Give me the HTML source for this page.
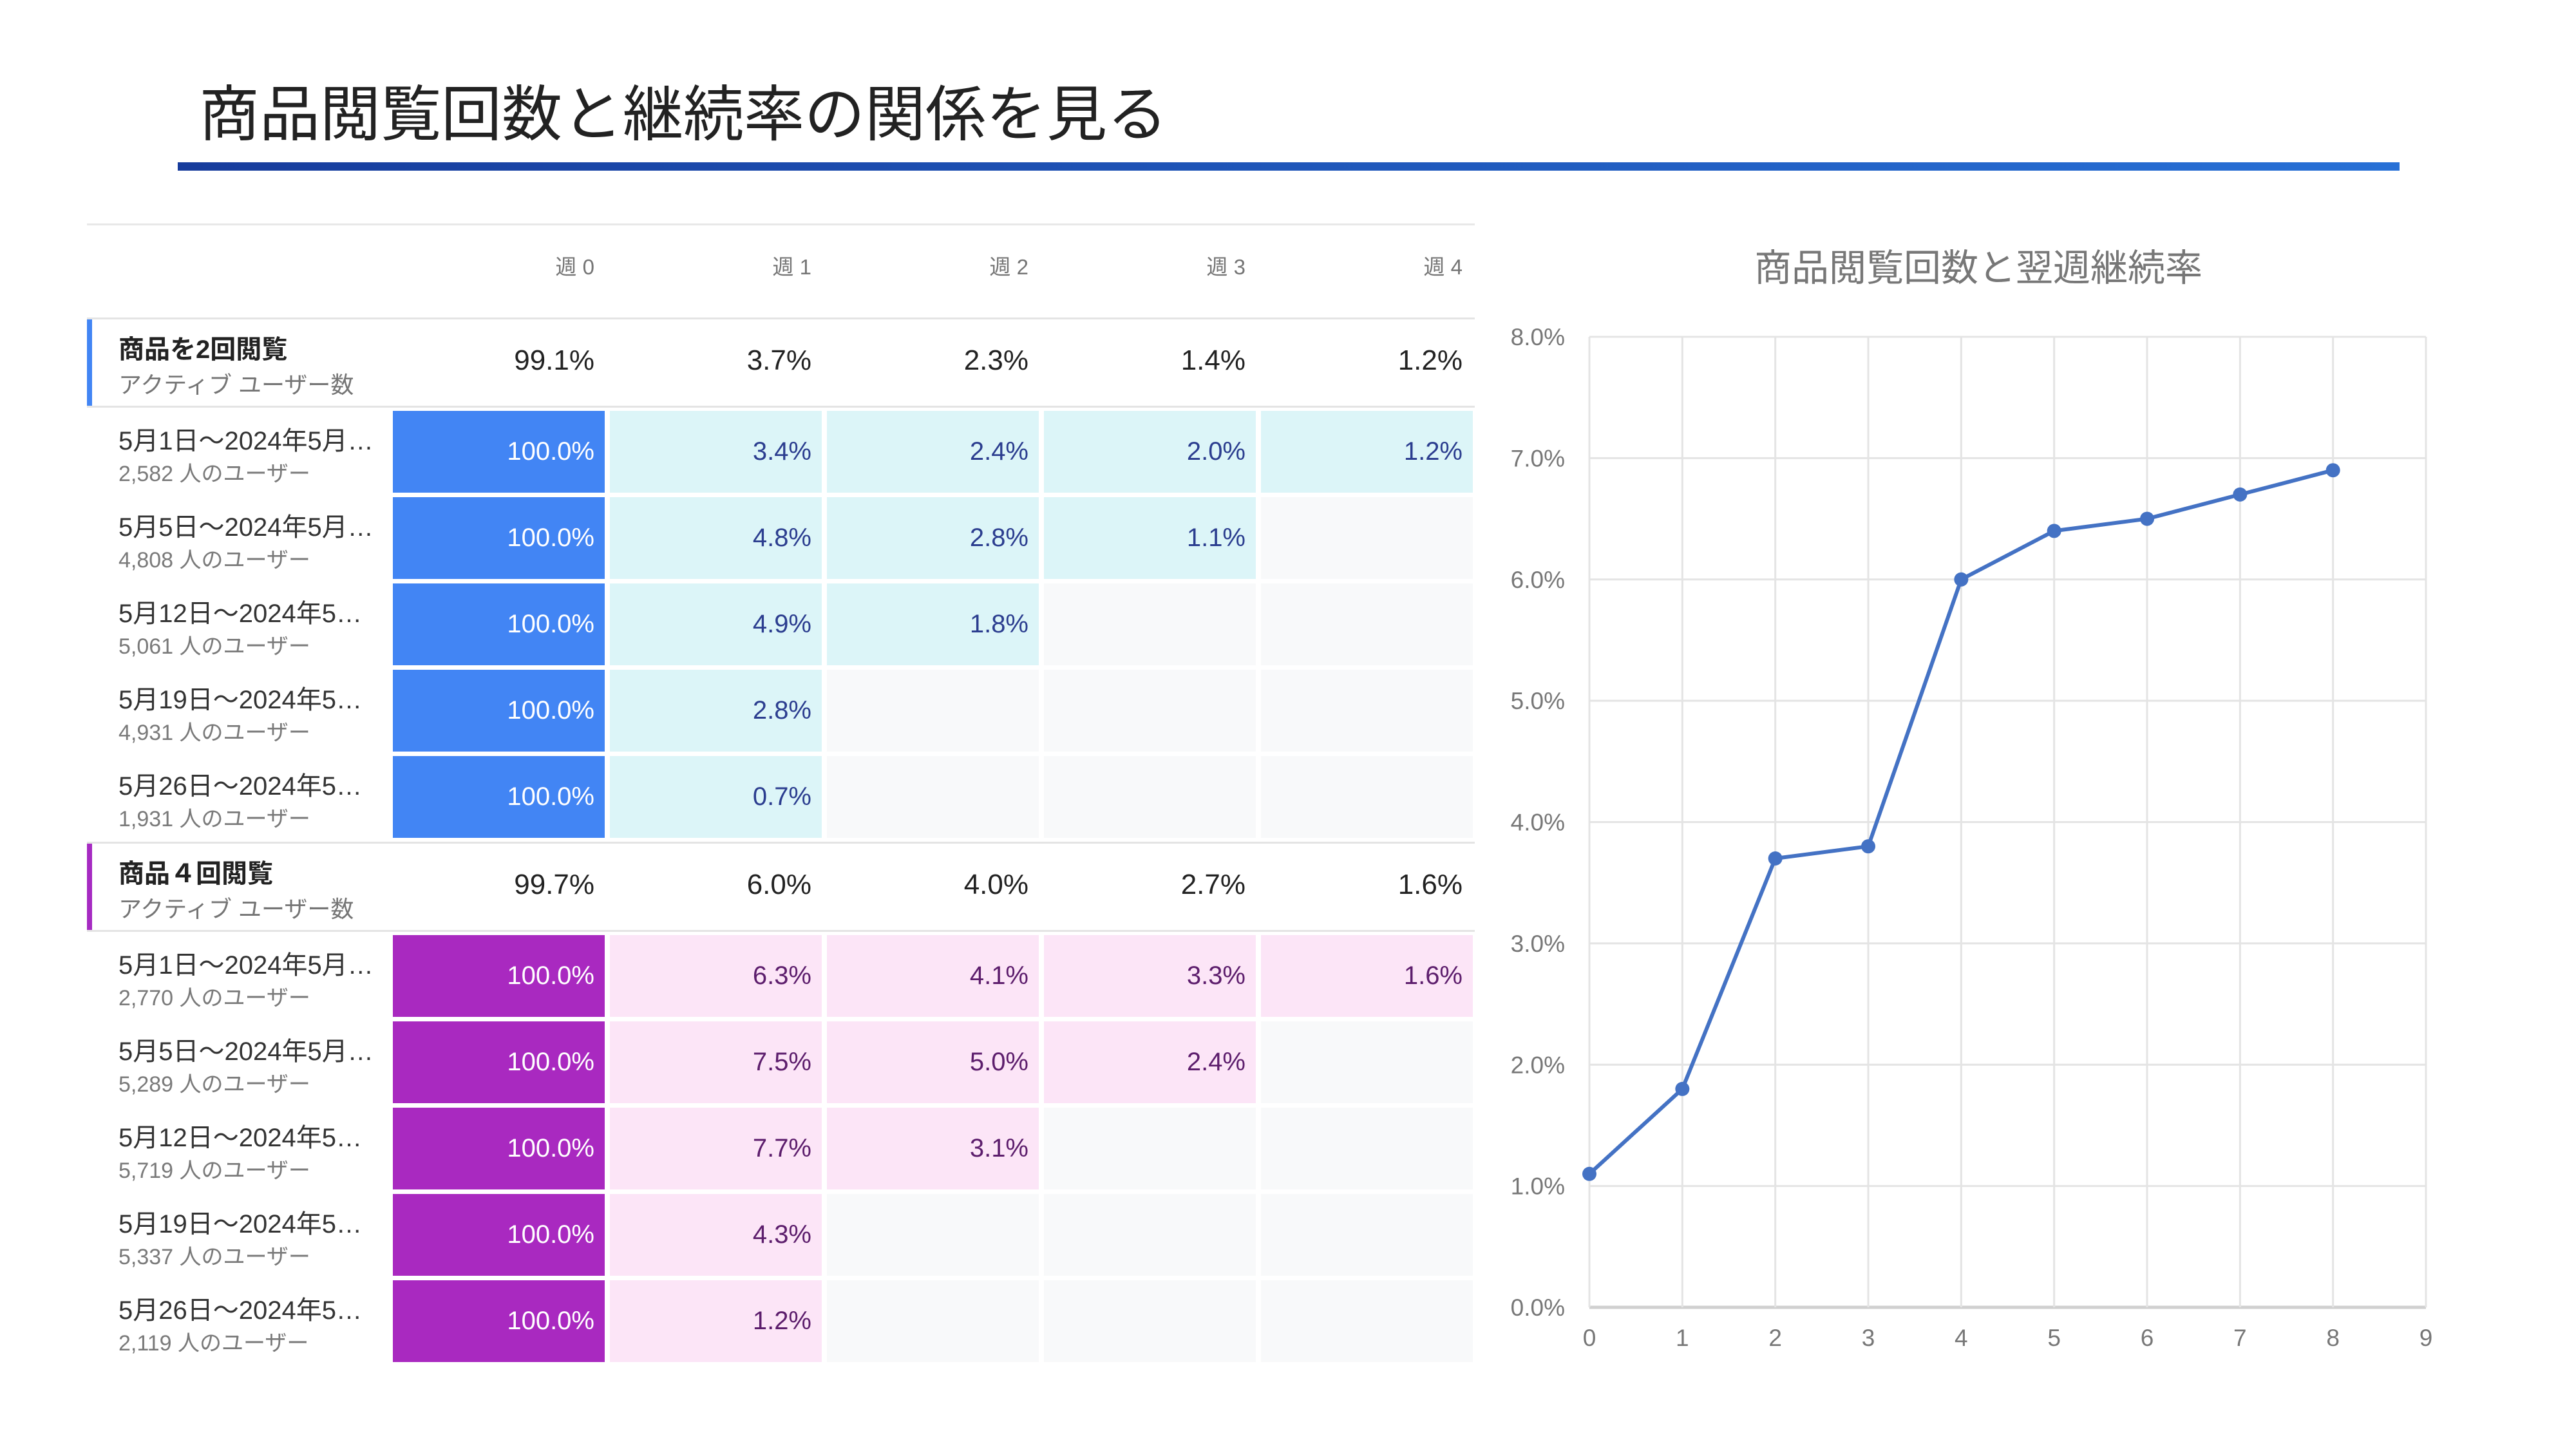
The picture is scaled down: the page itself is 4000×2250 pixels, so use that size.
<!DOCTYPE html>
<html><head><meta charset="utf-8">
<style>
body{margin:0;width:4000px;height:2250px;background:#fff;position:relative;overflow:hidden;font-family:"Liberation Sans","Noto Sans CJK JP",sans-serif;}
.a{position:absolute;white-space:nowrap;}
.cell{position:absolute;box-sizing:border-box;text-align:right;padding-right:16px;font-size:40px;}
.hd{position:absolute;text-align:right;font-size:33px;color:#757575;width:329px;}
.gv{position:absolute;text-align:right;font-size:44px;color:#222;width:313px;}
</style></head><body>
<div class="a" style="left:309px;top:118px;font-size:94px;color:#222;line-height:120px;">商品閲覧回数と継続率の関係を見る</div>
<div class="a" style="left:276px;top:252px;width:3450px;height:13px;background:linear-gradient(90deg,#173c9c,#2770d6);"></div>
<div id="table"></div>
<svg id="chart" width="4000" height="2250" style="position:absolute;left:0;top:0;"></svg>
<script>
const weeks=["週 0","週 1","週 2","週 3","週 4"];
const groupNames=["商品を2回閲覧","商品４回閲覧"];
const groupTotals=[["99.1%","3.7%","2.3%","1.4%","1.2%"],["99.7%","6.0%","4.0%","2.7%","1.6%"]];
const rowLabels=[["5月1日～2024年5月…","5月5日～2024年5月…","5月12日～2024年5…","5月19日～2024年5…","5月26日～2024年5…"],["5月1日～2024年5月…","5月5日～2024年5月…","5月12日～2024年5…","5月19日～2024年5…","5月26日～2024年5…"]];
const rowUsers=[["2,582","4,808","5,061","4,931","1,931"],["2,770","5,289","5,719","5,337","2,119"]];
const cellVals=[[[100,3.4,2.4,2.0,1.2],[100,4.8,2.8,1.1],[100,4.9,1.8],[100,2.8],[100,0.7]],[[100,6.3,4.1,3.3,1.6],[100,7.5,5.0,2.4],[100,7.7,3.1],[100,4.3],[100,1.2]]];
const T=document.getElementById('table');
const CP=337,CW=329,RP=134,RH=127;
function mk(cls,style,txt){const d=document.createElement('div');d.className=cls;d.style.cssText=style;if(txt!==undefined)d.textContent=txt;T.appendChild(d);return d;}
let e=mk('a','left:135px;top:347px;width:2155px;height:3px;background:#e8e8e8;');


weeks.forEach((w,i)=>{const h=mk('hd',`left:${610+i*CP-16}px;top:388px;`,w);

});
const gTops=[493,1307];
const colors=[{bar:'#4285f4',full:'#4285f4',light:'#dcf5f8',txt:'#2b3d8f'},{bar:'#a62bc2',full:'#a929c0',light:'#fce5f7',txt:'#5c1d6c'}];
gTops.forEach((gt,g)=>{
  const c=colors[g];
  let l=mk('a',`left:135px;top:${gt}px;width:2155px;height:3px;background:#e4e4e4;`);
  
  
  l=mk('a',`left:135px;top:${gt+137}px;width:2155px;height:3px;background:#e4e4e4;`);
  
  
  let b=mk('a',`left:135px;top:${gt+3}px;width:8px;height:134px;background:${c.bar};`);
  
  
  let n=mk('a',`left:184px;top:${gt+17}px;font-size:40px;font-weight:bold;color:#222;`,groupNames[g]);
  
  
  n=mk('a',`left:184px;top:${gt+76}px;font-size:36px;color:#757575;`,'アクティブ ユーザー数');
  
  
  groupTotals[g].forEach((v,i)=>{const d=mk('gv',`left:${610+i*CP}px;top:${gt+42}px;`,v);
    
    });
  for(let r=0;r<5;r++){
    const top=gt+145+r*RP;
    let t=mk('a',`left:184px;top:${top+14}px;font-size:40px;color:#333;`,rowLabels[g][r]);
    
    
    t=mk('a',`left:184px;top:${top+70}px;font-size:34px;color:#7a7a7a;`,rowUsers[g][r]+' 人のユーザー');
    
    
    for(let i=0;i<5;i++){
      const v=cellVals[g][r][i];
      const has=v!==undefined;
      const bg=!has?'#f8f9fa':(i===0?c.full:c.light);
      const col=i===0?'#fff':c.txt;
      const d=mk('cell',`left:${610+i*CP}px;top:${top}px;width:${CW}px;height:${RH}px;line-height:${RH}px;background:${bg};color:${col};`,has?v.toFixed(1)+'%':'');
      
      
    }
  }
});

// chart
const xCats=[0,1,2,3,4,5,6,7,8];
const yVals=[1.1,1.8,3.7,3.8,6.0,6.4,6.5,6.7,6.9];
const yTicks=[0,1,2,3,4,5,6,7,8];
const xTicks=[0,1,2,3,4,5,6,7,8,9];
const ns='http://www.w3.org/2000/svg';
const S=document.getElementById('chart');
const X0=2468,X1=3767,Y0=2030,Y1=523;
const xs=v=>X0+(v-0)/(9-0)*(X1-X0);
const ys=v=>Y0-(v-0)/(8-0)*(Y0-Y1);
function el(tag,attrs,txt){const n=document.createElementNS(ns,tag);for(const k in attrs)n.setAttribute(k,attrs[k]);if(txt!==undefined)n.textContent=txt;S.appendChild(n);return n;}
let n=el('text',{x:3072,y:436,'text-anchor':'middle','font-size':58,fill:'#777','font-family':'Liberation Sans, Noto Sans CJK JP, sans-serif'},'商品閲覧回数と翌週継続率');


yTicks.forEach(t=>{
  const g=el('line',{x1:X0,x2:X1,y1:ys(t),y2:ys(t),stroke:t===0?'#d0d0d0':'#e4e4e4','stroke-width':t===0?5:3});
  
  
  const lb=el('text',{x:2430,y:ys(t)+13,'text-anchor':'end','font-size':37,fill:'#777','font-family':'Liberation Sans, sans-serif'},t.toFixed(1)+'%');
  
  
});
xTicks.forEach(t=>{
  const g=el('line',{x1:xs(t),x2:xs(t),y1:Y1,y2:Y0,stroke:'#e4e4e4','stroke-width':3});
  
  
  const lb=el('text',{x:xs(t),y:2090,'text-anchor':'middle','font-size':37,fill:'#777','font-family':'Liberation Sans, sans-serif'},String(t));
  
  
});
const pts=xCats.map((c,i)=>xs(c)+','+ys(yVals[i])).join(' ');
const pl=el('polyline',{points:pts,fill:'none',stroke:'#4472c4','stroke-width':6,'stroke-linejoin':'round'});


xCats.forEach((c,i)=>{
  const p=el('circle',{cx:xs(c),cy:ys(yVals[i]),r:11,fill:'#4472c4'});
  
  
});
</script>
</body></html>
